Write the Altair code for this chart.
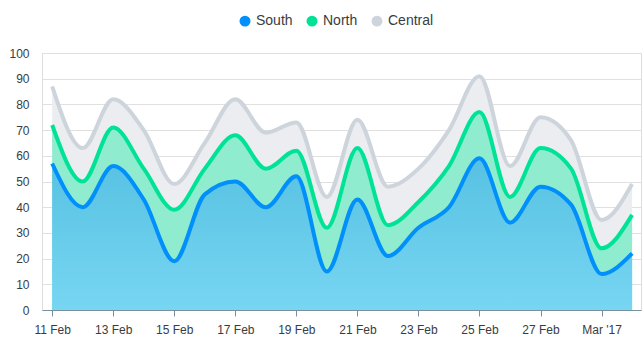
import altair as alt
import pandas as pd

dates = ["2017-02-11", "2017-02-12", "2017-02-13", "2017-02-14", "2017-02-15",
         "2017-02-16", "2017-02-17", "2017-02-18", "2017-02-19", "2017-02-20",
         "2017-02-21", "2017-02-22", "2017-02-23", "2017-02-24", "2017-02-25",
         "2017-02-26", "2017-02-27", "2017-02-28", "2017-03-01", "2017-03-02"]
south = [57, 40, 56, 43, 19, 45, 50, 40, 52, 15, 43, 21, 32, 40, 59, 34, 48, 41, 14, 22]
north = [72, 50, 71, 55, 39, 55, 68, 55, 62, 32, 63, 33, 42, 56, 77, 44, 63, 55, 24, 37]
central = [87, 63, 82, 70, 49, 65, 82, 69, 73, 44, 74, 48, 55, 70, 91, 56, 75, 66, 35, 49]

series_names = ["South", "North", "Central"]
line_colors = ["#008FFB", "#00E396", "#CED4DC"]
tick_days = [(2, 11), (2, 13), (2, 15), (2, 17), (2, 19), (2, 21), (2, 23), (2, 25), (2, 27), (3, 1)]

rows = []
for name, vals in zip(series_names, [south, north, central]):
    for d, v in zip(dates, vals):
        rows.append({"date": d + "T00:00:00Z", "series": name, "value": v})
df = pd.DataFrame(rows)

FONT = "Liberation Sans"

xscale = alt.Scale(
    type="utc",
    domain=[alt.DateTime(year=2017, month=2, date=10, hours=16, utc=True),
            alt.DateTime(year=2017, month=3, date=2, hours=7, utc=True)],
)
x_enc = alt.X(
    "date:T",
    scale=xscale,
    axis=alt.Axis(
        values=[alt.DateTime(year=2017, month=m, date=d, utc=True) for m, d in tick_days],
        labelExpr="utcFormat(datum.value, '%d') == '01' ? \"Mar '17\" : utcFormat(datum.value, '%d %b')",
        title=None, grid=False, domainColor="#78909c", tickColor="#78909c", tickSize=6,
        labelColor="#373d3f", labelFontSize=12, labelFont=FONT, labelPadding=8,
        labelFlush=False, labelOverlap=False,
    ),
)
y_enc = alt.Y(
    "value:Q",
    scale=alt.Scale(domain=[0, 100], nice=False),
    axis=alt.Axis(
        values=list(range(0, 101, 10)), title=None, domain=False, ticks=False,
        gridColor="#e0e0e0", labelColor="#373d3f", labelFontSize=12, labelFont=FONT,
        labelPadding=13,
    ),
)

base = alt.Chart(df)

area_central = base.transform_filter(alt.datum.series == "Central").mark_area(
    interpolate="monotone", color="#ebedf0"
).encode(x=x_enc, y=y_enc)
area_north = base.transform_filter(alt.datum.series == "North").mark_area(
    interpolate="monotone", color="#8feccf"
).encode(x=x_enc, y=y_enc)
area_south = base.transform_filter(alt.datum.series == "South").mark_area(
    interpolate="monotone",
    color=alt.Gradient(
        gradient="linear",
        stops=[alt.GradientStop(color="#57c1e2", offset=0),
               alt.GradientStop(color="#77d6f2", offset=1)],
        x1=1, x2=1, y1=0, y2=1,
    ),
).encode(x=x_enc, y=y_enc)

color_scale = alt.Scale(domain=series_names, range=line_colors)

lines = base.mark_line(interpolate="monotone", strokeWidth=4).encode(
    x=x_enc, y=y_enc,
    color=alt.Color(
        "series:N", scale=color_scale,
        legend=alt.Legend(
            orient="none", legendX=196, legendY=-39, direction="horizontal",
            symbolType="circle", symbolSize=30, symbolStrokeWidth=5.5, symbolOpacity=1,
            labelFontSize=14, labelColor="#373d3f", labelFont=FONT,
            columnPadding=5, labelOffset=4, title=None, padding=0,
        ),
    ),
    detail="series:N",
)

chart = alt.layer(area_central, area_north, area_south, lines).properties(
    width=599, height=257, autosize="none",
    padding={"left": 42, "top": 53, "right": 3, "bottom": 42},
).configure_view(stroke=None).configure(font=FONT)

chart.save("out.html", embed_options={"renderer": "svg", "actions": False})
